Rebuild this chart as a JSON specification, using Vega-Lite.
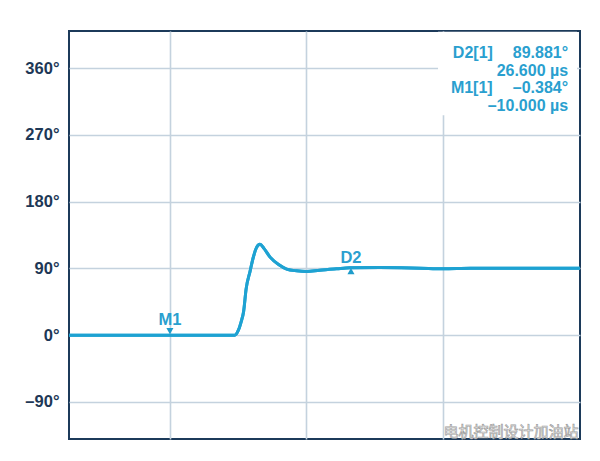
{
  "$schema": "https://vega.github.io/schema/vega-lite/v6.json",
  "width": 511,
  "height": 408,
  "autosize": "none",
  "padding": {"left": 69, "top": 31, "right": 20, "bottom": 22},
  "background": "white",
  "config": {
    "view": {"stroke": "#1c3a5a", "strokeWidth": 2},
    "font": "Liberation Sans"
  },
  "datasets": {
    "trace": [
      {"t": -30.4, "phase": 0},
      {"t": -10, "phase": 0},
      {"t": 3.1, "phase": 0},
      {"t": 3.8, "phase": 6},
      {"t": 4.4, "phase": 18},
      {"t": 4.9, "phase": 32},
      {"t": 5.4, "phase": 62},
      {"t": 6.2, "phase": 86},
      {"t": 6.9, "phase": 106},
      {"t": 7.5, "phase": 118},
      {"t": 8.2, "phase": 122.5},
      {"t": 9.0, "phase": 117},
      {"t": 10.2, "phase": 105.5},
      {"t": 12.2, "phase": 94.3},
      {"t": 13.6, "phase": 89},
      {"t": 15.6, "phase": 86.7},
      {"t": 17.6, "phase": 85.8},
      {"t": 20.3, "phase": 87.6},
      {"t": 23.7, "phase": 89.4},
      {"t": 26.4, "phase": 90.7},
      {"t": 32.5, "phase": 91.2},
      {"t": 40.6, "phase": 90.3},
      {"t": 45.2, "phase": 89.6},
      {"t": 50.7, "phase": 90.3},
      {"t": 60.8, "phase": 90.3},
      {"t": 72.9, "phase": 90.3}
    ],
    "markers": [
      {"name": "M1", "t": -10, "tri": 5.4, "lab": 20.5, "shape": "triangle-down"},
      {"name": "D2", "t": 26.6, "tri": 86.3, "lab": 104, "shape": "triangle-up"}
    ],
    "readoutLeft": [
      {"t": 47.2, "y": 381, "text": "D2[1]"},
      {"t": 46.8, "y": 333, "text": "M1[1]"}
    ],
    "readoutRight": [
      {"t": 70.5, "y": 381, "text": "89.881°"},
      {"t": 70.5, "y": 356, "text": "26.600 µs"},
      {"t": 70.5, "y": 333, "text": "–0.384°"},
      {"t": 70.5, "y": 308.5, "text": "–10.000 µs"}
    ],
    "box": [{"t": 44.2, "t2": 72.3, "y": 409, "y2": 296.5}],
    "mark": [{"t": 72.6, "y": -130.5, "text": "电机控制设计加油站"}]
  },
  "layer": [
    {
      "data": {"name": "trace"},
      "mark": {"type": "line", "color": "#1ea2d2", "strokeWidth": 3, "interpolate": "monotone"},
      "encoding": {
        "x": {
          "field": "t", "type": "quantitative",
          "scale": {"domain": [-30.4, 72.9], "nice": false, "zero": false},
          "axis": {"values": [-10, 17.6, 45.2], "labels": false, "ticks": false, "domain": false, "title": null,
                   "grid": true, "gridColor": "#c4d2de", "gridWidth": 1.6}
        },
        "y": {
          "field": "phase", "type": "quantitative",
          "scale": {"domain": [-140, 410], "nice": false, "zero": false},
          "axis": {"values": [-90, 0, 90, 180, 270, 360], "title": null, "ticks": false, "domain": false,
                   "labelExpr": "replace(datum.value + '°', '-', '–')",
                   "labelFont": "Liberation Sans", "labelFontSize": 16.5, "labelFontWeight": "bold",
                   "labelColor": "#1e3856", "labelPadding": 10,
                   "grid": true, "gridColor": "#c4d2de", "gridWidth": 1.6}
        }
      }
    },
    {
      "data": {"name": "box"},
      "mark": {"type": "rect", "color": "white", "opacity": 1},
      "encoding": {
        "x": {"field": "t", "type": "quantitative"},
        "x2": {"field": "t2"},
        "y": {"field": "y", "type": "quantitative"},
        "y2": {"field": "y2"}
      }
    },
    {
      "data": {"name": "trace"},
      "mark": {"type": "line", "color": "#1ea2d2", "strokeWidth": 3, "interpolate": "monotone"},
      "encoding": {
        "x": {"field": "t", "type": "quantitative"},
        "y": {"field": "phase", "type": "quantitative"}
      }
    },
    {
      "data": {"name": "markers"},
      "mark": {"type": "point", "filled": true, "color": "#1e9ccb", "size": 50, "opacity": 1},
      "encoding": {
        "x": {"field": "t", "type": "quantitative"},
        "y": {"field": "tri", "type": "quantitative"},
        "shape": {"field": "shape", "type": "nominal", "scale": null}
      }
    },
    {
      "data": {"name": "markers"},
      "mark": {"type": "text", "color": "#2a9fcf", "fontSize": 16.5, "fontWeight": "bold", "baseline": "middle", "align": "center"},
      "encoding": {
        "x": {"field": "t", "type": "quantitative"},
        "y": {"field": "lab", "type": "quantitative"},
        "text": {"field": "name"}
      }
    },
    {
      "data": {"name": "readoutLeft"},
      "mark": {"type": "text", "color": "#2a9fcf", "fontSize": 16, "fontWeight": "bold", "baseline": "middle", "align": "left"},
      "encoding": {
        "x": {"field": "t", "type": "quantitative"},
        "y": {"field": "y", "type": "quantitative"},
        "text": {"field": "text"}
      }
    },
    {
      "data": {"name": "readoutRight"},
      "mark": {"type": "text", "color": "#2a9fcf", "fontSize": 16, "fontWeight": "bold", "baseline": "middle", "align": "right"},
      "encoding": {
        "x": {"field": "t", "type": "quantitative"},
        "y": {"field": "y", "type": "quantitative"},
        "text": {"field": "text"}
      }
    },
    {
      "data": {"name": "mark"},
      "mark": {"type": "text", "font": "Noto Sans CJK SC", "fontSize": 15, "align": "right", "baseline": "middle",
               "color": "#fbfbfb", "stroke": "#a0a0a0", "strokeWidth": 0.7},
      "encoding": {
        "x": {"field": "t", "type": "quantitative"},
        "y": {"field": "y", "type": "quantitative"},
        "text": {"field": "text"}
      }
    }
  ]
}
